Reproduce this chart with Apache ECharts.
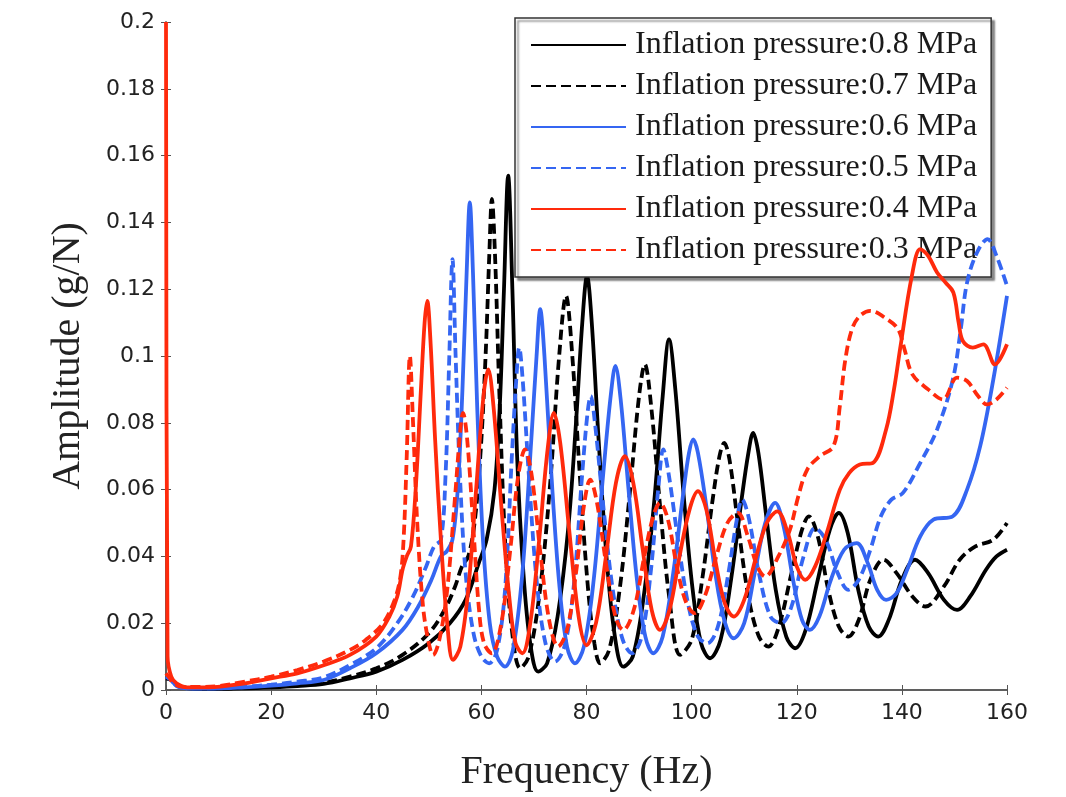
<!DOCTYPE html>
<html><head><meta charset="utf-8">
<script src="https://cdn.jsdelivr.net/npm/echarts@6/dist/echarts.min.js"></script>
<style>html,body{margin:0;padding:0;background:#fff}#c{width:1066px;height:797px}</style>
</head><body><div id="c"></div>
<script>
const seriesNames = ['Inflation pressure:0.8 MPa','Inflation pressure:0.7 MPa','Inflation pressure:0.6 MPa','Inflation pressure:0.5 MPa','Inflation pressure:0.4 MPa','Inflation pressure:0.3 MPa'];
const xTicks = [0,20,40,60,80,100,120,140,160];
const yTicks = [0,0.02,0.04,0.06,0.08,0.1,0.12,0.14,0.16,0.18,0.2];

const p08 = [[0,0.0035],[1,0.003],[2,0.0015],[4,0.0006],[8,0.0003],[15,0.0005],[20,0.0008],[25,0.0012],[30,0.0018],[35,0.0035],[40,0.0055],[45,0.009],[50,0.014],[54,0.02],[57,0.027],[59.5,0.038],[61,0.045],[62.5,0.06],[63.5,0.085],[64.3,0.12],[65.1,0.154],[65.9,0.12],[66.8,0.07],[68,0.035],[69.3,0.014],[70.8,0.0055],[72.5,0.008],[74.5,0.022],[76.5,0.048],[78,0.08],[79.2,0.11],[80.1,0.124],[81,0.11],[82.3,0.075],[83.8,0.04],[85.4,0.016],[87,0.007],[88.8,0.01],[90.8,0.027],[92.8,0.055],[94.5,0.088],[95.7,0.105],[96.9,0.09],[98.5,0.058],[100.2,0.03],[101.8,0.014],[103.5,0.0095],[105.5,0.015],[107.5,0.033],[109.5,0.057],[110.8,0.071],[111.7,0.077],[112.7,0.071],[114.2,0.052],[116,0.03],[118,0.016],[119.7,0.0125],[121.7,0.018],[124,0.033],[126.3,0.048],[128,0.053],[129.7,0.047],[131.7,0.03],[133.7,0.019],[135.5,0.016],[137.5,0.021],[140,0.033],[142.5,0.039],[145,0.035],[148,0.027],[150.5,0.024],[153,0.028],[156,0.036],[158,0.04],[160,0.042]];

const p07 = [[0,0.004],[1,0.003],[2,0.0015],[4,0.0006],[8,0.0004],[15,0.0006],[20,0.001],[25,0.0015],[30,0.0022],[35,0.004],[40,0.0065],[45,0.0105],[50,0.017],[53,0.024],[55,0.031],[56.3,0.037],[57.5,0.04],[58.7,0.05],[59.8,0.07],[60.8,0.1],[61.5,0.13],[62,0.147],[62.6,0.13],[63.4,0.09],[64.5,0.045],[65.8,0.018],[67.4,0.0065],[69,0.01],[71,0.028],[73,0.06],[74.8,0.1],[76.1,0.118],[77.3,0.1],[78.7,0.065],[80.2,0.032],[81.5,0.014],[82.6,0.008],[84.3,0.012],[86.3,0.03],[88.3,0.06],[90,0.088],[91.1,0.0975],[92.3,0.085],[94,0.055],[95.8,0.027],[97.8,0.0105],[100,0.015],[102,0.033],[104,0.057],[105.3,0.07],[106.2,0.074],[107.2,0.069],[108.8,0.05],[110.8,0.028],[112.8,0.016],[114.6,0.013],[116.6,0.019],[119,0.035],[121,0.048],[122.3,0.052],[124,0.046],[126,0.03],[128,0.019],[129.8,0.016],[131.8,0.021],[134,0.033],[136.5,0.039],[139,0.035],[142,0.028],[144.5,0.025],[148,0.031],[151,0.039],[154,0.043],[157.4,0.045],[160,0.05]];

const p06 = [[0,0.004],[1,0.003],[2,0.0012],[4,0.0005],[8,0.0004],[15,0.0008],[20,0.0013],[25,0.002],[30,0.003],[35,0.0065],[40,0.011],[45,0.018],[48,0.025],[50.5,0.033],[52.3,0.04],[53.4,0.0415],[54.5,0.045],[55.5,0.06],[56.4,0.09],[57.2,0.125],[57.8,0.146],[58.4,0.125],[59.2,0.085],[60.3,0.045],[61.6,0.02],[63,0.01],[64.5,0.007],[66,0.012],[67.8,0.035],[69.5,0.075],[70.5,0.1],[71.2,0.114],[72,0.1],[73.3,0.065],[74.8,0.032],[76.3,0.013],[77.8,0.008],[79.5,0.013],[81.3,0.032],[83.2,0.065],[84.6,0.088],[85.5,0.097],[86.5,0.087],[88,0.06],[89.6,0.033],[91.2,0.016],[92.7,0.011],[94.5,0.016],[96.5,0.035],[98.5,0.06],[99.5,0.071],[100.3,0.075],[101.2,0.071],[102.8,0.055],[104.5,0.035],[106.2,0.021],[108,0.0155],[110,0.02],[112,0.035],[114,0.05],[115.9,0.056],[117.5,0.049],[119.3,0.033],[121,0.021],[122.5,0.018],[124.3,0.022],[126.5,0.033],[129,0.042],[131.4,0.044],[133.5,0.038],[135.3,0.03],[137,0.027],[139,0.029],[141,0.036],[143.5,0.046],[146,0.051],[149.7,0.052],[152.4,0.06],[154.9,0.073],[157.4,0.093],[160,0.118]];

const p05 = [[0,0.004],[1,0.003],[2,0.0013],[4,0.0005],[8,0.0005],[15,0.001],[20,0.0016],[25,0.0025],[30,0.0038],[35,0.0075],[40,0.0125],[44,0.02],[47,0.028],[49.5,0.037],[51,0.043],[52.3,0.045],[53.2,0.065],[53.9,0.1],[54.5,0.129],[55.1,0.1],[55.9,0.065],[57,0.035],[58.5,0.017],[60,0.01],[61.5,0.008],[63,0.012],[64.5,0.03],[65.8,0.07],[66.6,0.092],[67.2,0.1025],[67.9,0.092],[69,0.065],[70.5,0.033],[72.2,0.014],[74,0.0085],[75.8,0.013],[77.5,0.03],[79.2,0.065],[80.2,0.083],[80.8,0.088],[81.6,0.08],[83.2,0.055],[85,0.03],[86.9,0.015],[88.7,0.011],[90.5,0.016],[92.2,0.035],[93.7,0.061],[94.6,0.072],[95.6,0.065],[97.4,0.045],[99.3,0.026],[101.2,0.016],[103,0.014],[105,0.019],[107,0.035],[108.6,0.051],[109.6,0.057],[110.8,0.052],[112.8,0.035],[115,0.022],[117,0.02],[119,0.025],[121.3,0.04],[123.5,0.0485],[125.5,0.045],[127.8,0.035],[129.8,0.03],[131.8,0.033],[134,0.042],[136,0.052],[138,0.057],[140.2,0.059],[143.5,0.068],[146.7,0.078],[149.7,0.093],[151.2,0.108],[152.4,0.122],[154.3,0.131],[156.3,0.135],[158,0.13],[160,0.121]];

const p04 = [[0,0.2],[0.3,0.01],[1,0.004],[2,0.002],[4,0.0008],[8,0.0008],[15,0.002],[20,0.0035],[25,0.005],[30,0.0074],[35,0.0105],[40,0.016],[42.5,0.022],[44,0.028],[45,0.036],[45.8,0.04],[46.6,0.043],[47.5,0.06],[48.5,0.09],[49.2,0.11],[49.7,0.1165],[50.3,0.105],[51.2,0.075],[52.3,0.045],[53.5,0.02],[54.6,0.009],[56,0.013],[57.5,0.03],[59,0.06],[60.4,0.088],[61.3,0.096],[62.3,0.085],[63.8,0.055],[65.3,0.028],[66.5,0.014],[67.8,0.011],[69.3,0.02],[71,0.045],[72.6,0.072],[73.8,0.083],[75,0.074],[76.7,0.048],[78.5,0.022],[80,0.0134],[81.8,0.02],[83.7,0.04],[85.6,0.062],[87.3,0.07],[88.9,0.062],[90.7,0.042],[92.4,0.024],[94,0.018],[95.8,0.024],[97.7,0.04],[99.6,0.054],[101.2,0.0595],[102.8,0.054],[104.6,0.038],[106.3,0.026],[108,0.022],[110,0.027],[112.3,0.04],[114.3,0.05],[116.3,0.0535],[118.3,0.047],[120,0.037],[121.6,0.033],[123.5,0.037],[125.7,0.047],[128.2,0.06],[130,0.065],[132,0.0675],[134.5,0.068],[137,0.078],[138.5,0.09],[139.7,0.1025],[141.9,0.124],[143.5,0.132],[145,0.13],[146.7,0.125],[148.3,0.122],[149.8,0.119],[150.8,0.11],[151.6,0.1045],[153.5,0.1025],[155.5,0.1035],[157.7,0.0975],[160,0.1035]];

const p03 = [[0,0.005],[0.5,0.004],[1.5,0.002],[3,0.001],[6,0.0009],[10,0.0012],[15,0.0025],[20,0.004],[25,0.006],[30,0.0085],[35,0.012],[38,0.015],[41.3,0.02],[43.5,0.027],[44.6,0.034],[45.2,0.045],[45.8,0.07],[46.4,0.1],[47,0.08],[47.8,0.05],[48.9,0.025],[50,0.014],[50.8,0.0105],[52,0.015],[53.5,0.03],[55,0.058],[56,0.078],[56.5,0.083],[57.3,0.075],[58.5,0.048],[59.5,0.025],[60.5,0.014],[62,0.011],[63.8,0.02],[65.5,0.042],[67,0.064],[68.3,0.072],[69.6,0.064],[71.3,0.04],[73,0.02],[74.6,0.013],[76.3,0.018],[78,0.035],[79.5,0.055],[80.7,0.063],[82,0.056],[83.8,0.037],[85.5,0.022],[87,0.018],[89,0.024],[91,0.04],[92.7,0.052],[94,0.056],[95.5,0.051],[97.3,0.036],[99,0.026],[100.6,0.023],[102.5,0.028],[104.7,0.04],[106.8,0.05],[108.8,0.053],[110.7,0.046],[112.5,0.037],[114,0.034],[116.5,0.04],[118.7,0.048],[120.3,0.058],[122,0.066],[124.4,0.07],[127,0.073],[128.2,0.085],[129.2,0.0985],[130.5,0.108],[132,0.112],[134,0.1135],[137.2,0.111],[139.3,0.108],[140.5,0.102],[142,0.0945],[145,0.09],[147.8,0.087],[150.5,0.0935],[152.4,0.0925],[154.5,0.088],[156.2,0.0855],[158,0.087],[160,0.0905]];

const seriesData = [p08, p07, p06, p05, p04, p03];
const colors = ['#000000','#000000','#3566f2','#3566f2','#ff2a0c','#ff2a0c'];
const dashed = [false, true, false, true, false, true];

const chart = echarts.init(document.getElementById('c'), null, {renderer:'canvas'});
const axisCol = '#555';
const labelFont = {fontFamily:'DejaVu Sans', fontSize:22, color:'#222'};
const option = {
  animation:false,
  backgroundColor:'#fff',
  grid:{left:166, right:59, top:22, bottom:102},
  legend:{
    orient:'vertical', left:515, top:18,
    itemWidth:95, itemHeight:26, itemGap:9,
    padding:[11,14,11,15],
    backgroundColor:'#fff', borderColor:'#333', borderWidth:1.5,
    shadowColor:'rgba(0,0,0,0.45)', shadowOffsetX:3, shadowOffsetY:3, shadowBlur:2,
    itemStyle:{opacity:0},
    textStyle:{fontFamily:'Liberation Serif', fontSize:32, color:'#1a1a1a', padding:[0,0,0,4]},
    data: seriesNames
  },
  xAxis:[{
    type:'value', min:xTicks[0], max:xTicks[xTicks.length-1], interval:20,
    name:'Frequency (Hz)', nameLocation:'middle', nameGap:62,
    nameTextStyle:{fontFamily:'Liberation Serif', fontSize:40, color:'#222'},
    axisLine:{lineStyle:{color:axisCol, width:1.5}},
    axisTick:{inside:true, length:5, lineStyle:{color:axisCol}},
    axisLabel:Object.assign({margin:12}, labelFont),
    splitLine:{show:false}
  },{
    type:'value', position:'top', min:0, max:160, interval:20,
    axisLine:{show:true, lineStyle:{color:axisCol, width:1.5}},
    axisTick:{inside:true, length:5, lineStyle:{color:axisCol}},
    axisLabel:{show:false}, splitLine:{show:false}
  }],
  yAxis:[{
    type:'value', min:yTicks[0], max:yTicks[yTicks.length-1], interval:0.02,
    name:'Amplitude (g/N)', nameLocation:'middle', nameGap:78,
    nameTextStyle:{fontFamily:'Liberation Serif', fontSize:40, color:'#222'},
    axisLine:{show:true, lineStyle:{color:axisCol, width:1.5}},
    axisTick:{show:true, inside:true, length:5, lineStyle:{color:axisCol}},
    axisLabel:Object.assign({margin:11}, labelFont),
    splitLine:{show:false}
  },{
    type:'value', position:'right', min:0, max:0.2, interval:0.02,
    axisLine:{show:true, lineStyle:{color:axisCol, width:1.5}},
    axisTick:{show:true, inside:true, length:5, lineStyle:{color:axisCol}},
    axisLabel:{show:false}, splitLine:{show:false}
  }],
  series: seriesNames.map((n,i)=>({
    name:n, type:'line', data:seriesData[i], xAxisIndex:0, yAxisIndex:0,
    symbol:'none', showSymbol:false, smooth:0.35, clip:true,
    color:colors[i],
    lineStyle:{color:colors[i], width:3.8, type: dashed[i] ? [10,5] : 'solid'},
    z: 2 + i
  }))
};
chart.setOption(option);
</script></body></html>
